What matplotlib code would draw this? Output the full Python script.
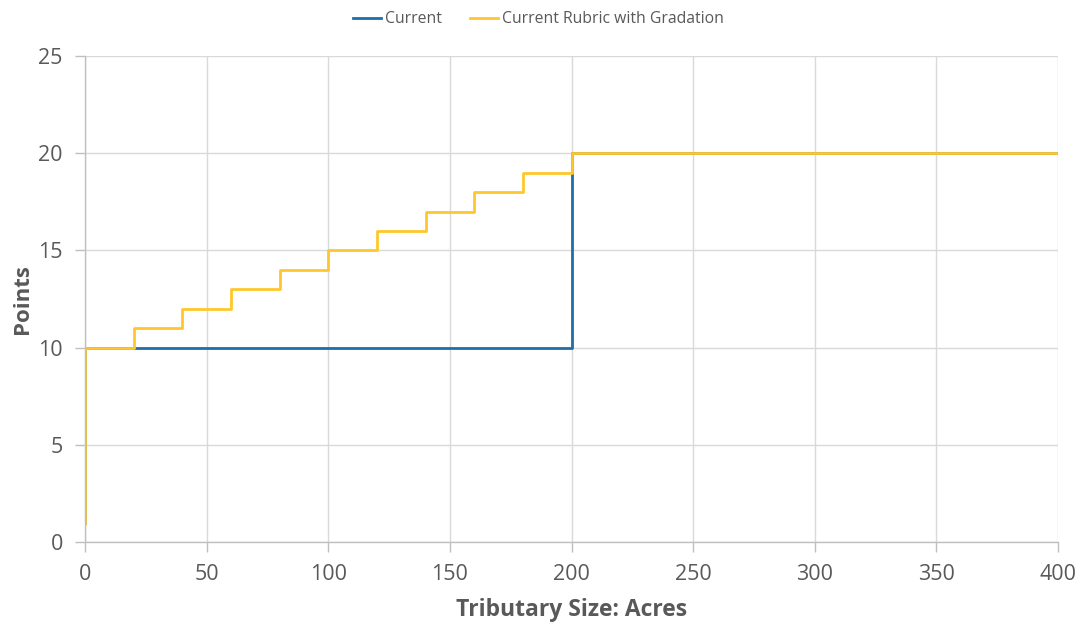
import matplotlib.pyplot as plt

# step data: points vs tributary size (acres)
current_x = [0, 0, 200, 200, 400]
current_y = [1, 10, 10, 20, 20]

gradation_x = [0, 0, 20, 20, 40, 40, 60, 60, 80, 80, 100, 100, 120, 120,
               140, 140, 160, 160, 180, 180, 200, 200, 400]
gradation_y = [1, 10, 10, 11, 11, 12, 12, 13, 13, 14, 14, 15, 15, 16,
               16, 17, 17, 18, 18, 19, 19, 20, 20]

x_ticks = [0, 50, 100, 150, 200, 250, 300, 350, 400]
y_ticks = [0, 5, 10, 15, 20, 25]

text_color = '#595959'
grid_color = '#d9d9d9'

plt.rcParams['font.family'] = ['Open Sans', 'DejaVu Sans']

fig = plt.figure(figsize=(10.83, 6.24), dpi=100)
ax = fig.add_axes([0.0785, 0.1314, 0.8985, 0.7789])

ax.plot(current_x, current_y, color='#1F6EA8', lw=2, label='Current')
ax.plot(gradation_x, gradation_y, color='#FFC72C', lw=2,
        label='Current Rubric with Gradation')

ax.set_xlim(0, 400)
ax.set_ylim(0, 25)
ax.set_xticks(x_ticks)
ax.set_yticks(y_ticks)
ax.grid(True, color=grid_color, lw=1)
ax.set_axisbelow(True)

for side in ['top', 'right']:
    ax.spines[side].set_visible(False)
for side in ['left', 'bottom']:
    ax.spines[side].set_color('#bfbfbf')
    ax.spines[side].set_linewidth(1)

ax.tick_params(axis='both', colors='#bfbfbf', labelcolor=text_color,
               labelsize=15.5, length=7, width=1, direction='out')
ax.tick_params(axis='x', pad=9)
ax.tick_params(axis='y', pad=9)

ax.set_xlabel('Tributary Size: Acres', fontsize=16.5, fontweight='bold',
              color=text_color, labelpad=9)
ax.set_ylabel('Points', fontsize=16, fontweight='bold', color=text_color,
              labelpad=4)

fig.legend(loc='upper center', bbox_to_anchor=(0.497, 1.005), ncol=2,
           frameon=False, fontsize=11.3, labelcolor=text_color,
           handlelength=1.8, handletextpad=0.25, columnspacing=1.8)

fig.savefig('out.png', dpi=100)
